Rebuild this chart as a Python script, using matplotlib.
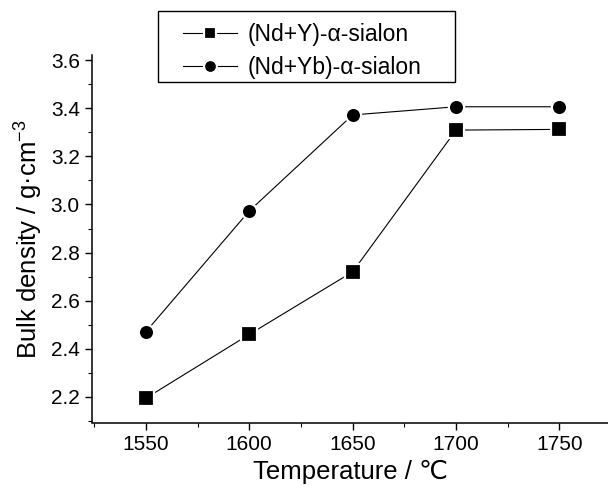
import matplotlib
matplotlib.use('Agg')
import matplotlib.pyplot as plt
import matplotlib.patches as patches
from matplotlib.ticker import MultipleLocator

plt.rcParams['font.family'] = ['Liberation Sans', 'DejaVu Sans']

temps = [1550, 1600, 1650, 1700, 1750]
nd_y = [2.195, 2.46, 2.72, 3.309, 3.312]
nd_yb = [2.471, 2.973, 3.372, 3.406, 3.406]
labels = ['(Nd+Y)-\u03b1-sialon', '(Nd+Yb)-\u03b1-sialon']
x_ticks = [1550, 1600, 1650, 1700, 1750]
y_ticks = [2.2, 2.4, 2.6, 2.8, 3.0, 3.2, 3.4, 3.6]

W, H = 608, 492
fig = plt.figure(figsize=(W / 100, H / 100), dpi=100)
ax = fig.add_axes([92.3 / W, 1 - 422.5 / H, 1 - 92.3 / W, (422.5 - 55.5) / H])

style = dict(color='black', lw=0.8, markersize=11, markeredgecolor='white',
             markeredgewidth=1.6)
ax.plot(temps, nd_y, marker='s', label=labels[0], **style)
ax.plot(temps, nd_yb, marker='o', label=labels[1], **style)

ax.set_xlim(1524.1, 1773.5)
ax.set_ylim(2.094, 3.619)
ax.set_xticks(x_ticks)
ax.set_yticks(y_ticks)
ax.set_yticklabels(['%.1f' % v for v in y_ticks])
ax.xaxis.set_minor_locator(MultipleLocator(25))
ax.yaxis.set_minor_locator(MultipleLocator(0.1))
ax.tick_params(which='major', direction='out', length=5, width=1, labelsize=15, pad=4)
ax.tick_params(which='minor', direction='out', length=3, width=0.8)

for s in ['top', 'right']:
    ax.spines[s].set_visible(False)
for s in ['left', 'bottom']:
    ax.spines[s].set_linewidth(1.1)

ax.set_xlabel('Temperature / \u2103', fontsize=18.5, labelpad=4)
ax.set_ylabel('Bulk density / g\u00b7cm$^{\\mathregular{-3}}$', fontsize=18.5, labelpad=5)

leg = fig.legend(loc='upper left', bbox_to_anchor=(183 / W, 1 - 22.7 / H),
                 frameon=False, fontsize=16.5, handlelength=2.36,
                 handletextpad=0.48, labelspacing=0.46, borderpad=0,
                 borderaxespad=0, markerscale=0.85)

box = patches.Rectangle((158 / W, 1 - 81.7 / H), (455 - 158) / W, (81.7 - 10.7) / H,
                        transform=fig.transFigure, fill=False, edgecolor='black',
                        lw=1)
fig.patches.append(box)

fig.savefig('out.png', dpi=100)
